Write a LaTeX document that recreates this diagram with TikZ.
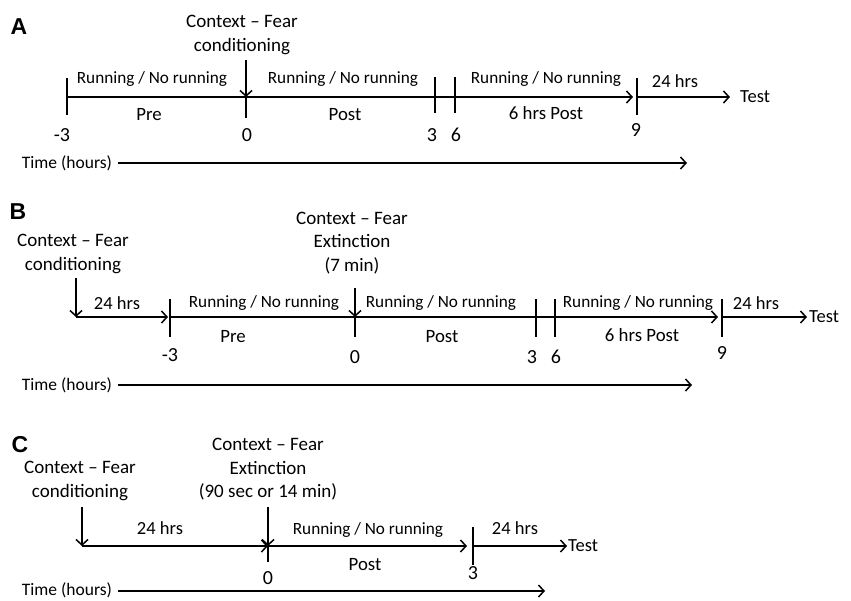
\documentclass[tikz,border=0pt]{standalone}
\usepackage{fontspec}
\setmainfont{Carlito}
\newfontfamily\panelfont{Liberation Sans}
\usetikzlibrary{arrows.meta}

\begin{document}
\begin{tikzpicture}[x = 1pt, y = -1pt]
\tikzstyle{lineStyle} = [line width = 1.5pt]
\tikzstyle{arrowStyle} = [lineStyle, -{Straight Barb[length = 5.5pt, width = 12pt]}]
\tikzstyle{panelStyle} = [inner sep = 0pt, font = \panelfont\bfseries\fontsize{23}{26}\selectfont]
\tikzstyle{eventStyle} = [inner sep = 0pt, align = center, font = \fontsize{19}{23.5}\selectfont]
\tikzstyle{runStyle} = [inner sep = 0pt, font = \fontsize{17.2}{20}\selectfont]
\tikzstyle{phaseStyle} = [inner sep = 0pt, font = \fontsize{18.8}{22}\selectfont]
\tikzstyle{hrsStyle} = [inner sep = 0pt, font = \fontsize{18.5}{22}\selectfont]
\tikzstyle{numStyle} = [inner sep = 0pt, font = \fontsize{20}{24}\selectfont]
\tikzstyle{timeStyle} = [inner sep = 0pt, font = \fontsize{17.5}{21}\selectfont]
\useasboundingbox (0,0) rectangle (851,600);

\node[panelStyle] (pA) at (19,27) {A};
\node[eventStyle] (ctxA) at (242,35) {Context -- Fear\\conditioning};
\coordinate (ctxAend) at (246,60);
\coordinate (am3) at (67,97);
\coordinate (am3t) at (67,78);
\coordinate (am3b) at (67,115);
\coordinate (a0) at (246,97);
\coordinate (a0b) at (246,118);
\coordinate (a3t) at (435,77);
\coordinate (a3b) at (435,113);
\coordinate (a6t) at (455,77);
\coordinate (a6b) at (455,113);
\coordinate (a9) at (637,97);
\coordinate (a9t) at (637,78);
\coordinate (a9b) at (637,115);
\coordinate (aT) at (730,97);
\node[hrsStyle, anchor = west] (testA) at (740,97) {Test};
\draw[arrowStyle] (ctxAend) -- (a0);
\draw[arrowStyle, shorten > = 4pt] (am3) -- (a9);
\draw[arrowStyle] (a9) -- (aT);
\draw[lineStyle] (am3t) -- (am3b);
\draw[lineStyle] (a0) -- (a0b);
\draw[lineStyle] (a3t) -- (a3b);
\draw[lineStyle] (a6t) -- (a6b);
\draw[lineStyle] (a9t) -- (a9b);
\node[runStyle] (runA1) at (152,79) {Running / No running};
\node[runStyle] (runA2) at (343,79) {Running / No running};
\node[runStyle] (runA3) at (546,79) {Running / No running};
\node[hrsStyle] (hrsA) at (675,81) {24 hrs};
\node[phaseStyle] (preA) at (149,115) {Pre};
\node[phaseStyle] (postA) at (345,115) {Post};
\node[phaseStyle] (sixA) at (546,113) {6 hrs Post};
\node[numStyle] (nm3A) at (62,135) {-3};
\node[numStyle] (n0A) at (247,135) {0};
\node[numStyle] (n3A) at (432,135) {3};
\node[numStyle] (n6A) at (456,135) {6};
\node[numStyle] (n9A) at (636,130) {9};
\node[timeStyle] (timeA) at (67,163) {Time (hours)};
\coordinate (timeAend) at (687,163);
\draw[arrowStyle] (timeA.east) ++(6,0) -- (timeAend);

\node[panelStyle] (pB) at (18,212) {B};
\node[eventStyle] (condB) at (73,254) {Context -- Fear\\conditioning};
\node[eventStyle] (extB) at (352,243) {Context -- Fear\\Extinction\\(7 min)};
\coordinate (condBtop) at (76,278);
\coordinate (bc) at (76,317);
\coordinate (bm3) at (170,317);
\coordinate (bm3t) at (170,299);
\coordinate (bm3b) at (170,337);
\coordinate (extBtop) at (355,288);
\coordinate (b0) at (355,317);
\coordinate (b0b) at (355,337);
\coordinate (b3t) at (536,299);
\coordinate (b3b) at (536,337);
\coordinate (b6t) at (555,299);
\coordinate (b6b) at (555,337);
\coordinate (b9) at (722,317);
\coordinate (b9t) at (722,299);
\coordinate (b9b) at (722,337);
\coordinate (bT) at (807,317);
\node[hrsStyle, anchor = west] (testB) at (809,317) {Test};
\draw[arrowStyle] (condBtop) -- (bc);
\draw[arrowStyle, shorten > = 2pt] (bc) -- (bm3);
\draw[arrowStyle] (extBtop) -- (b0);
\draw[arrowStyle, shorten > = 4pt] (bm3) -- (b9);
\draw[arrowStyle] (b9) -- (bT);
\draw[lineStyle] (bm3t) -- (bm3b);
\draw[lineStyle] (b0) -- (b0b);
\draw[lineStyle] (b3t) -- (b3b);
\draw[lineStyle] (b6t) -- (b6b);
\draw[lineStyle] (b9t) -- (b9b);
\node[hrsStyle] (hrsB1) at (117,303) {24 hrs};
\node[runStyle] (runB1) at (264,303) {Running / No running};
\node[runStyle] (runB2) at (441,303) {Running / No running};
\node[runStyle] (runB3) at (638,303) {Running / No running};
\node[hrsStyle] (hrsB2) at (756,303) {24 hrs};
\node[phaseStyle] (preB) at (233,337) {Pre};
\node[phaseStyle] (postB) at (442,337) {Post};
\node[phaseStyle] (sixB) at (642,335) {6 hrs Post};
\node[numStyle] (nm3B) at (170,355) {-3};
\node[numStyle] (n0B) at (355,357) {0};
\node[numStyle] (n3B) at (532,357) {3};
\node[numStyle] (n6B) at (556,357) {6};
\node[numStyle] (n9B) at (722,353) {9};
\node[timeStyle] (timeB) at (67,385) {Time (hours)};
\coordinate (timeBend) at (692,385);
\draw[arrowStyle] (timeB.east) ++(6,0) -- (timeBend);

\node[panelStyle] (pC) at (20,445) {C};
\node[eventStyle] (condC) at (80,481) {Context -- Fear\\conditioning};
\node[eventStyle] (extC) at (268,469.5) {Context -- Fear\\Extinction\\(90 sec or 14 min)};
\coordinate (condCtop) at (82,507);
\coordinate (cc) at (82,546);
\coordinate (extCtop) at (268,507);
\coordinate (c0) at (268,546);
\coordinate (c0b) at (268,562);
\coordinate (c3) at (473,546);
\coordinate (c3t) at (473,527);
\coordinate (c3b) at (473,565);
\coordinate (cT) at (567,546);
\node[hrsStyle, anchor = west] (testC) at (568,546) {Test};
\draw[arrowStyle] (condCtop) -- (cc);
\draw[arrowStyle] (cc) -- (c0);
\draw[arrowStyle] (extCtop) -- (c0);
\draw[arrowStyle, shorten > = 6pt] (c0) -- (c3);
\draw[arrowStyle] (c3) -- (cT);
\draw[lineStyle] (c0) -- (c0b);
\draw[lineStyle] (c3t) -- (c3b);
\node[hrsStyle] (hrsC1) at (160,528) {24 hrs};
\node[runStyle] (runC) at (368,530) {Running / No running};
\node[hrsStyle] (hrsC2) at (515,528) {24 hrs};
\node[phaseStyle] (postC) at (365,565) {Post};
\node[numStyle] (n0C) at (268,578) {0};
\node[numStyle] (n3C) at (473,573) {3};
\node[timeStyle] (timeC) at (67,590) {Time (hours)};
\coordinate (timeCend) at (545,591);
\draw[arrowStyle] (timeC.east) ++(6,1) -- (timeCend);
\end{tikzpicture}
\end{document}
